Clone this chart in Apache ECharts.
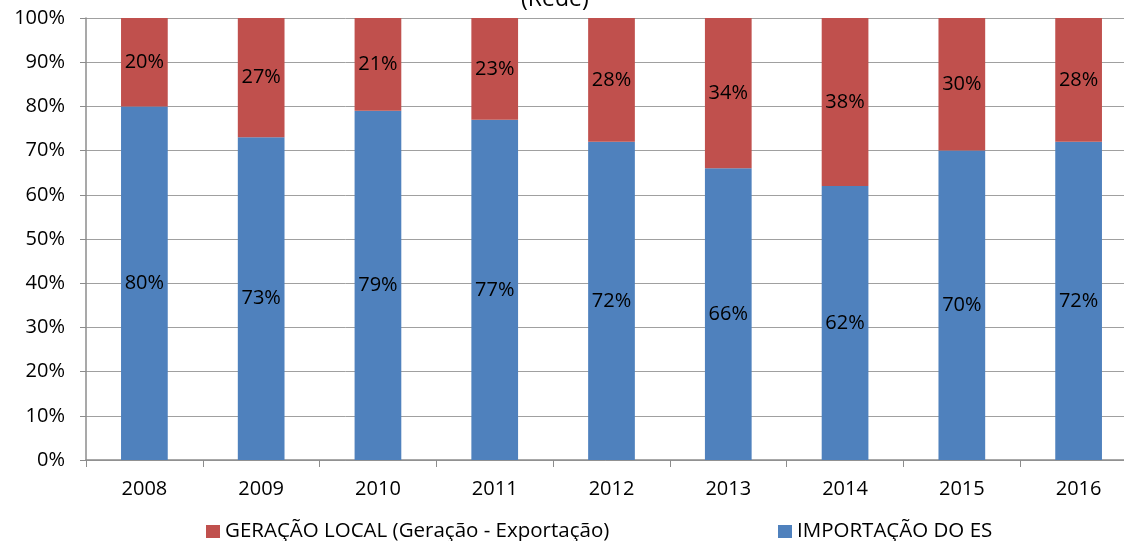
<!DOCTYPE html>
<html>
<head>
<meta charset="utf-8">
<script src="https://cdn.jsdelivr.net/npm/echarts@6/dist/echarts.min.js"></script>
<style>
  html, body { margin: 0; padding: 0; background: #fff; overflow: hidden; }
  #chart { width: 1124px; height: 541px; }
</style>
</head>
<body>
<div id="chart"></div>
<script>
const years = ["2008", "2009", "2010", "2011", "2012", "2013", "2014", "2015", "2016"];
const importacao = [80, 73, 79, 77, 72, 66, 62, 70, 72];
const geracaoLocal = [20, 27, 21, 23, 28, 34, 38, 30, 28];
const nameGeracao = "GERAÇÃO LOCAL (Geração - Exportação)";
const nameImport = "IMPORTAÇÃO DO ES";

const font = "'Open Sans', 'Noto Sans', sans-serif";
let myChart = echarts.init(document.getElementById("chart"));

myChart.setOption({
  animation: false,
  textStyle: { fontFamily: font },
  // plot runs past the right edge in the original, so let it overflow
  grid: { left: 86, width: 1051, top: 18, height: 442, outerBoundsMode: "none" },
  graphic: [
    {
      type: "text",
      left: 521,
      top: -12,
      style: { text: "(Rede)", fontSize: 23, fontFamily: font, fill: "#000" },
    },
  ],
  legend: [
    {
      data: [{ name: nameGeracao }],
      left: 201,
      top: 516,
      itemWidth: 14,
      itemHeight: 13,
      icon: "rect",
      textStyle: { fontSize: 20.5, color: "#000", fontFamily: font },
    },
    {
      data: [{ name: nameImport }],
      left: 773,
      top: 516,
      itemWidth: 14,
      itemHeight: 13,
      icon: "rect",
      textStyle: { fontSize: 20.5, color: "#000", fontFamily: font },
    },
  ],
  xAxis: {
    type: "category",
    data: years,
    axisLine: { lineStyle: { color: "#8c8c8c", width: 1.5 } },
    axisTick: { show: true, length: 7, lineStyle: { color: "#8c8c8c" } },
    axisLabel: { fontSize: 20, color: "#000", margin: 19 },
  },
  yAxis: {
    type: "value",
    min: 0,
    max: 100,
    interval: 10,
    axisLine: { show: true, lineStyle: { color: "#8c8c8c", width: 1.5 } },
    axisTick: { show: true, length: 6, lineStyle: { color: "#8c8c8c" } },
    axisLabel: { fontSize: 20, color: "#000", margin: 21, formatter: "{value}%" },
    splitLine: { lineStyle: { color: "#a0a0a0", width: 1 } },
  },
  series: [
    {
      name: nameImport,
      type: "bar",
      stack: "total",
      barWidth: "40%",
      data: importacao,
      itemStyle: { color: "#4F81BD" },
      label: { show: true, position: "inside", formatter: "{c}%", fontSize: 20, color: "#000" },
    },
    {
      name: nameGeracao,
      type: "bar",
      stack: "total",
      barWidth: "40%",
      data: geracaoLocal,
      itemStyle: { color: "#C0504D" },
      label: { show: true, position: "inside", formatter: "{c}%", fontSize: 20, color: "#000" },
    },
  ],
});
</script>
</body>
</html>
